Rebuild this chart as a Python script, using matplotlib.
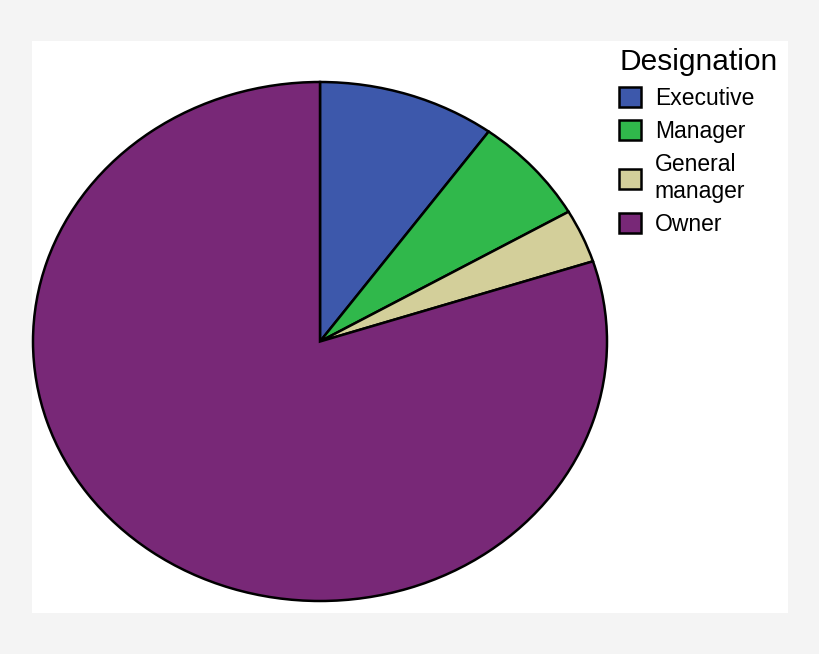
import matplotlib
matplotlib.use('Agg')
import matplotlib.pyplot as plt
from matplotlib.patches import Patch

# данные
labels = ['Executive', 'Manager', 'General\nmanager', 'Owner']
counts = [3, 2, 1, 24]
colors = ['#3d58ab', '#30b84b', '#d3cf9a', '#782877']

fig = plt.figure(figsize=(8.2, 6.54), dpi=100)
fig.patch.set_facecolor('#f4f4f4')
# белая область графика
bg = fig.add_axes([32 / 820, 1 - 613 / 654, 756 / 820, 572 / 654])
bg.set_facecolor('white')
bg.set_xticks([])
bg.set_yticks([])
for s in bg.spines.values():
    s.set_visible(False)
bg.set_zorder(-10)

ax = fig.add_axes([33 / 820, 1 - 601 / 654, 574 / 820, 519 / 654])
wedges, _ = ax.pie(counts, colors=colors, startangle=90, counterclock=False,
                   wedgeprops=dict(edgecolor='black', linewidth=1.8))
for w in wedges:
    w.set_clip_on(False)
ax.set_aspect('auto')
ax.set_xlim(-1, 1)
ax.set_ylim(-1, 1)
ax.axis('off')

handles = [Patch(facecolor=c, edgecolor='black', linewidth=1.8) for c in colors]
leg = fig.legend(handles, labels, loc='upper left',
                 bbox_to_anchor=(601 / 820, 1 - 30 / 654),
                 frameon=False, title='Designation',
                 prop={'family': 'Liberation Sans', 'size': 16.5},
                 handlelength=0.95, handleheight=0.95, handletextpad=0.6,
                 labelspacing=0.45, borderpad=0.3)
leg.get_title().set_fontfamily('Liberation Sans')
leg.get_title().set_fontsize(21.5)
leg._legend_box.align = 'left'

fig.savefig('out.png', dpi=100, facecolor=fig.get_facecolor())
